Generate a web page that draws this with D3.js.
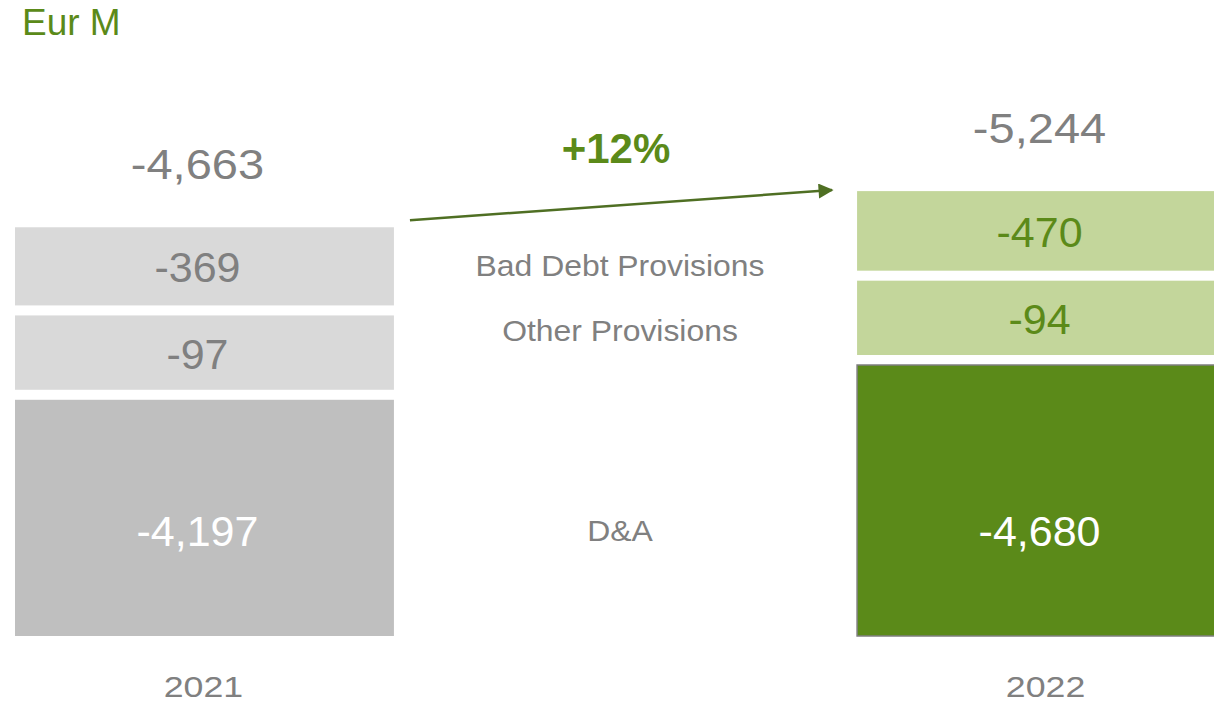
<!DOCTYPE html>
<html>
<head>
<meta charset="utf-8">
<script src="https://cdn.jsdelivr.net/npm/d3@7"></script>
<style>
  html, body { margin: 0; padding: 0; background: #fff; }
  svg { display: block; font-family: "Liberation Sans", Arial, sans-serif; }
</style>
</head>
<body>
<svg id="chart" width="1214" height="703"></svg>
<script>
// data
const years = ["2021", "2022"];
const segments = ["Bad Debt Provisions", "Other Provisions", "D&A"];
const values2021 = [-369, -97, -4197];
const values2022 = [-470, -94, -4680];
const totals = [-4663, -5244];
const growthLabel = "+12%";
const unitLabel = "Eur M";

const svg = d3.select("#chart");
const fmt = v => d3.format(",")(v).replace("−", "-");

const green = "#5b8a19";
const grayText = "#808080";
const fills = {
  "2021": ["#d9d9d9", "#d9d9d9", "#bfbfbf"],
  "2022": ["#c3d69b", "#c3d69b", "#5b8a19"]
};
const textFills = {
  "2021": [grayText, grayText, "#ffffff"],
  "2022": [green, green, "#ffffff"]
};

// the source text is a bit wider than the font: place at (x,y) and scale horizontally
function placeStretched(sel, fx, fy, k) {
  sel.attr("x", 0).attr("y", 0)
    .attr("transform", (d, i) => `translate(${fx(d, i)},${fy(d, i)}) scale(${k},1)`);
}

// scales (bars are schematic: provisions get a small tile, D&A a truncated scale)
const x = d3.scaleBand().domain(years).range([15, 1236]).paddingInner(0.55).paddingOuter(0);
const provH = d3.scaleLinear().domain([0, 500]).range([73, 80]);
const daH = d3.scaleLinear().domain([3000, 4680]).range([150, 271]);
const baseY = 636, gap = 10;

const rows = years.map((yr, i) => {
  const vals = i === 0 ? values2021 : values2022;
  let bottom = baseY;
  const segs = [];
  for (let k = vals.length - 1; k >= 0; k--) {
    const v = Math.abs(vals[k]);
    const h = k === vals.length - 1 ? daH(v) : provH(v);
    segs.unshift({ year: yr, idx: k, name: segments[k], value: vals[k], y: bottom - h, h });
    bottom = bottom - h - gap;
  }
  return { year: yr, total: totals[i], segs, top: segs[0].y };
});

// unit label
svg.append("text")
  .attr("x", 22).attr("y", 35)
  .attr("fill", green).attr("font-size", 37)
  .text(unitLabel);

// bars
const g = svg.selectAll("g.year").data(rows).join("g").attr("class", "year");

g.selectAll("rect").data(d => d.segs).join("rect")
  .attr("x", d => x(d.year))
  .attr("y", d => d.y)
  .attr("width", x.bandwidth())
  .attr("height", d => d.h)
  .attr("fill", d => fills[d.year][d.idx])
  .attr("stroke", d => d.year === "2022" && d.idx === 2 ? "#7f7f7f" : "none")
  .attr("stroke-width", 1.5);

g.selectAll("text.val").data(d => d.segs).join("text")
  .attr("class", "val")
  .attr("x", d => x(d.year) + x.bandwidth() / 2 - 7)
  .attr("y", d => d.idx === 2 ? baseY - 90 : d.y + d.h / 2 + 16)
  .attr("text-anchor", "middle")
  .attr("font-size", 43)
  .attr("fill", d => textFills[d.year][d.idx])
  .text(d => fmt(d.value));

// totals above bars
g.append("text")
  .attr("text-anchor", "middle")
  .attr("font-size", 42)
  .attr("fill", grayText)
  .text(d => fmt(d.total))
  .call(placeStretched, d => x(d.year) + x.bandwidth() / 2 - 7, d => d.top - 48, 1.12);

// year labels
g.append("text")
  .attr("text-anchor", "middle")
  .attr("font-size", 30)
  .attr("fill", grayText)
  .text(d => d.year)
  .call(placeStretched, d => x(d.year) + x.bandwidth() / 2 - 1, () => 697, 1.19);

// category labels in the middle
const labelY = [276, 341, 541];
svg.selectAll("text.cat").data(segments).join("text")
  .attr("class", "cat")
  .attr("text-anchor", "middle")
  .attr("font-size", 29)
  .attr("fill", grayText)
  .text(d => d)
  .call(placeStretched, () => 620, (d, i) => labelY[i], 1.1);

// growth arrow
const arrowColor = "#4f6f23";
svg.append("defs").append("marker")
  .attr("id", "head")
  .attr("viewBox", "0 0 10 10")
  .attr("refX", 9).attr("refY", 5)
  .attr("markerWidth", 6.5).attr("markerHeight", 6)
  .attr("markerUnits", "strokeWidth")
  .attr("orient", "auto")
  .append("path")
  .attr("d", "M0,0 L10,5 L0,10 Z")
  .attr("fill", arrowColor);

const x1 = x("2021") + x.bandwidth() + 16, y1 = rows[0].top - 7;
const x2 = x("2022") - 25, y2 = rows[1].top - 1;
svg.append("line")
  .attr("x1", x1).attr("y1", y1)
  .attr("x2", x2).attr("y2", y2)
  .attr("stroke", arrowColor)
  .attr("stroke-width", 2.5)
  .attr("marker-end", "url(#head)");

svg.append("text")
  .attr("x", 616).attr("y", 163)
  .attr("text-anchor", "middle")
  .attr("font-size", 42)
  .attr("font-weight", "bold")
  .attr("fill", green)
  .text(growthLabel);
</script>
</body>
</html>
